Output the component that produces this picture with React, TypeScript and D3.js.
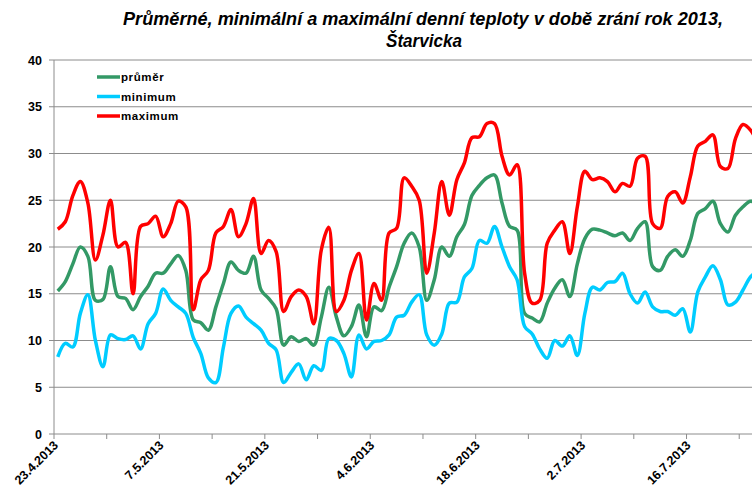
import React from 'react';
import * as d3 from 'd3';

// daily values from 23.4.2013
const maxTemps = [
  21.9, 22.7, 25.5, 27.0, 24.7, 18.6, 21.3, 25.0, 20.0, 20.5,
  15.0, 22.2, 22.5, 23.3, 21.1, 22.5, 24.9, 24.3, 13.3, 16.5,
  17.5, 21.5, 22.2, 24.0, 21.1, 22.5, 25.2, 19.3, 20.7, 19.5,
  13.1, 14.7, 15.4, 14.7, 11.8, 19.7, 22.1, 13.1, 14.3, 17.5,
  19.3, 12.2, 16.1, 14.3, 21.5, 22.0, 27.4, 26.5, 25.0, 17.2,
  21.5, 27.0, 23.4, 27.2, 29.0, 31.7, 31.8, 33.2, 33.2, 29.7,
  27.7, 28.8, 17.2, 14.0, 14.3, 20.4, 21.8, 22.7, 19.3, 24.3,
  28.1, 27.2, 27.4, 27.0, 25.9, 26.8, 26.5, 29.5, 29.7, 22.5,
  22.0, 25.4, 25.9, 24.7, 27.5, 30.8, 31.3, 32.0, 28.6, 28.4,
  31.6, 33.1, 32.5, 31.0,
];
const meanTemps = [
  15.3, 16.3, 18.2, 20.0, 19.0, 14.3, 14.4, 17.9, 14.7, 14.5,
  13.3, 14.7, 15.8, 17.2, 17.2, 18.2, 19.1, 17.5, 12.2, 11.9,
  11.1, 13.6, 16.1, 18.4, 17.5, 17.2, 19.0, 15.4, 14.5, 13.4,
  9.5, 10.4, 9.9, 10.2, 9.5, 12.5, 15.7, 12.5, 10.5, 11.5,
  13.8, 10.4, 13.6, 13.2, 15.7, 17.9, 20.4, 21.5, 20.0, 14.3,
  16.5, 20.0, 19.0, 21.1, 22.4, 25.5, 26.6, 27.4, 27.7, 24.7,
  22.2, 21.8, 12.9, 12.4, 12.0, 14.0, 15.6, 16.5, 14.7, 18.2,
  20.9, 21.9, 21.8, 21.5, 21.2, 21.5, 20.7, 22.0, 22.7, 17.9,
  17.5, 19.0, 19.7, 19.0, 20.7, 23.6, 24.1, 24.9, 22.5, 21.6,
  23.4, 24.3, 24.9, 24.5,
];
const minTemps = [
  8.25, 9.7, 9.3, 12.9, 14.9, 10.0, 7.2, 10.6, 10.2, 10.1,
  10.5, 9.1, 11.8, 12.9, 15.5, 14.3, 13.6, 12.9, 10.3, 8.6,
  6.0, 5.5, 9.3, 12.9, 13.7, 12.5, 11.8, 11.1, 9.7, 9.0,
  5.5, 6.6, 7.5, 5.8, 7.3, 6.8, 10.2, 10.0, 8.6, 6.1,
  10.6, 9.1, 9.9, 10.0, 10.6, 12.5, 12.7, 14.1, 14.9, 10.6,
  9.5, 10.7, 14.0, 14.1, 16.8, 17.7, 20.7, 20.4, 22.2, 20.0,
  17.9, 16.5, 11.5, 10.7, 9.1, 8.1, 10.0, 9.4, 10.5, 8.4,
  12.9, 15.7, 15.4, 16.2, 16.3, 17.2, 15.0, 14.0, 15.2, 13.6,
  13.1, 13.1, 12.7, 13.4, 10.9, 15.2, 16.8, 18.0, 16.5, 13.8,
  14.1, 15.4, 16.8, 17.5,
];
const tickLabels = ['23.4.2013', '7.5.2013', '21.5.2013', '4.6.2013', '18.6.2013', '2.7.2013', '16.7.2013'];
const yTicks = [0, 5, 10, 15, 20, 25, 30, 35, 40];

const series = [
  { name: 'průměr', values: meanTemps, color: '#339966' },
  { name: 'minimum', values: minTemps, color: '#00ccff' },
  { name: 'maximum', values: maxTemps, color: '#ff0000' },
];

export default function App() {
  const width = 752;
  const height = 493;
  const left = 54;
  const top = 60;
  const bottom = 434;
  const dayW = 7.53;

  const x = d3.scaleLinear().domain([0, 100]).range([left, left + 100 * dayW]);
  const y = d3.scaleLinear().domain([0, 40]).range([bottom, top]);
  const line = d3
    .line<number>()
    .x((d, i) => x(i + 0.5))
    .y((d) => y(d))
    .curve(d3.curveCatmullRom.alpha(0.5));

  const weekTicks = d3.range(0, 14).map((k) => k * 7).filter((d) => x(d) <= width);

  return (
    <svg width={width} height={height} style={{ position: 'absolute', left: 0, top: 0, background: '#fff' }}
      fontFamily="'Liberation Sans', Arial, sans-serif">
      <text x={423} y={25} textAnchor="middle" fontSize={17.5} fontWeight="bold" fontStyle="italic"
        textLength={600} lengthAdjust="spacingAndGlyphs">
        Průměrné, minimální a maximální denní teploty v době zrání rok 2013,
      </text>
      <text x={424} y={47} textAnchor="middle" fontSize={17.5} fontWeight="bold" fontStyle="italic"
        textLength={76} lengthAdjust="spacingAndGlyphs">
        Štarvicka
      </text>

      {yTicks.map((t) => (
        <g key={t}>
          {t > 0 && <line x1={left} x2={width} y1={y(t)} y2={y(t)} stroke="#8c8c8c" strokeWidth={1} />}
          <line x1={left - 5} x2={left} y1={y(t)} y2={y(t)} stroke="#8c8c8c" />
          <text x={42} y={y(t)} dy="0.36em" textAnchor="end" fontSize={12.5} fontWeight="bold">
            {t}
          </text>
        </g>
      ))}

      <line x1={left} x2={left} y1={top} y2={bottom} stroke="#8c8c8c" />
      <line x1={left} x2={width} y1={bottom} y2={bottom} stroke="#8c8c8c" />
      {weekTicks.map((d) => (
        <line key={d} x1={x(d)} x2={x(d)} y1={bottom} y2={bottom + 5} stroke="#8c8c8c" />
      ))}
      {tickLabels.map((lab, i) => (
        <text key={lab} transform={`translate(${x(i * 14) + 5},${bottom + 12}) rotate(-45)`}
          textAnchor="end" fontSize={12.5} fontWeight="bold">
          {lab}
        </text>
      ))}

      {series.map((s) => (
        <path key={s.name} d={line(s.values) || ''} fill="none" stroke={s.color} strokeWidth={3.5}
          strokeLinejoin="round" />
      ))}

      {series.map((s, i) => (
        <g key={s.name} transform={`translate(97,${77 + i * 19.5})`}>
          <line x1={0} x2={23} y1={0} y2={0} stroke={s.color} strokeWidth={3.5} />
          <text x={24} y={0} dy="0.35em" fontSize={11.5} fontWeight="bold" letterSpacing={0.6}>
            {s.name}
          </text>
        </g>
      ))}
    </svg>
  );
}
